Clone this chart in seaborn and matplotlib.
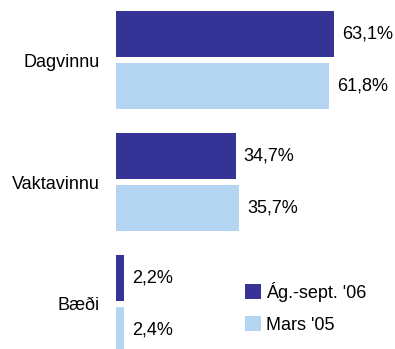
import matplotlib
matplotlib.use("Agg")
import matplotlib.pyplot as plt
import seaborn as sns
import pandas as pd

categories = ["Dagvinnu", "Vaktavinnu", "Bæði"]
series_names = ["Ág.-sept. '06", "Mars '05"]
values_2006 = [63.1, 34.7, 2.2]
values_2005 = [61.8, 35.7, 2.4]
colors = ["#353396", "#B3D5F1"]

df = pd.DataFrame({
    "category": categories * 2,
    "series": [series_names[0]] * 3 + [series_names[1]] * 3,
    "value": values_2006 + values_2005,
})

sns.set_theme(style="white")
plt.rcParams["font.family"] = ["Liberation Sans", "DejaVu Sans"]
plt.rcParams["text.color"] = "black"
plt.rcParams["ytick.color"] = "black"

W, H = 395, 349
fig = plt.figure(figsize=(W / 100, H / 100), dpi=100)
ax = fig.add_axes([116 / W, 0, 276 / W, 1])

sns.barplot(data=df, x="value", y="category", hue="series", orient="h",
            palette=colors, width=0.84, gap=0.1, saturation=1, linewidth=0,
            order=categories, hue_order=series_names, ax=ax)

ax.set_xlim(0, 80)
ax.set_ylim(2.369, -0.492)
for s in ax.spines.values():
    s.set_visible(False)
ax.set_xticks([])
ax.set_xlabel("")
ax.set_ylabel("")
ax.tick_params(axis="y", length=0, pad=11.5, labelsize=13, labelcolor="black")

for cont, vals in zip(ax.containers, [values_2006, values_2005]):
    ax.bar_label(cont, labels=[f"{v:.1f}%".replace(".", ",") for v in vals],
                 padding=5.8, fontsize=13, color="black")

handles, labels = ax.get_legend_handles_labels()
leg = ax.legend(handles, labels, loc="upper left", frameon=False,
                bbox_to_anchor=(245 / W, 1 - 282 / H), bbox_transform=fig.transFigure,
                fontsize=13, handlelength=0.885, handleheight=0.885,
                handletextpad=0.3, labelspacing=0.8, borderpad=0, borderaxespad=0)
for t in leg.get_texts():
    t.set_color("black")

fig.savefig("out.png", dpi=100)
